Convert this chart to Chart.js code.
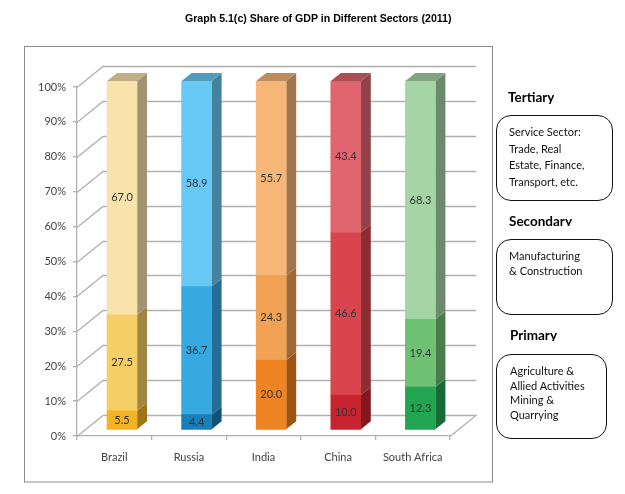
<!DOCTYPE html>
<html><head><meta charset="utf-8">
<script src="https://cdn.jsdelivr.net/npm/chart.js@4"></script>
<style>
html,body{margin:0;padding:0;background:#fff}
#wrap{position:relative;width:625px;height:494px;overflow:hidden}
canvas{position:absolute;left:0;top:0}
.t{position:absolute;white-space:nowrap;color:#000}
#title{left:185px;top:12px;font:bold 10.6px "Liberation Sans",Arial,sans-serif;line-height:13px}
.h{font:bold 13.5px Lato,sans-serif;line-height:18px;overflow:hidden}
.box{position:absolute;border:1.2px solid #111;background:#fff;box-sizing:border-box;font:11px Lato,sans-serif;color:#111}
.box span{position:absolute;white-space:nowrap}
</style></head>
<body><div id="wrap">
<canvas id="c" width="625" height="494"></canvas>
<div class="t" id="title">Graph 5.1(c) Share of GDP in Different Sectors (2011)</div>
<div class="t h" style="left:508px;top:88px;height:18px">Tertiary</div>
<div class="box" style="left:496px;top:115px;width:117px;height:86px;border-radius:15px"><span style="left:12px;top:8px;line-height:16.6px">Service Sector:<br>Trade, Real<br>Estate, Finance,<br>Transport, etc.</span></div>
<div class="t h" style="left:509px;top:212px;height:13.5px">Secondary</div>
<div class="box" style="left:496px;top:239px;width:117px;height:76px;border-radius:15px"><span style="left:12px;top:8px;line-height:15px">Manufacturing<br>&amp; Construction</span></div>
<div class="t h" style="left:510px;top:326px;height:14.5px">Primary</div>
<div class="box" style="left:496px;top:354px;width:111px;height:85px;border-radius:15px"><span style="left:13px;top:9px;line-height:14.7px">Agriculture &amp;<br>Allied Activities<br>Mining &amp;<br>Quarrying</span></div>
</div>
<script>
const categories=["Brazil","Russia","India","China","South Africa"];
const primary=[5.5,4.4,20.0,10.0,12.3];
const secondary=[27.5,36.7,24.3,46.6,19.4];
const tertiary=[67.0,58.9,55.7,43.4,68.3];
const primaryColors=["#F3B325","#1A7EB8","#EE8422","#C8242F","#22A550"];
const secondaryColors=["#F6CE66","#36A9E1","#F2A254","#D8454F","#6EC173"];
const tertiaryColors=["#F9E3AC","#69C9F5","#F5B678","#E0656F","#A5D5A5"];
const yTicks=[0,10,20,30,40,50,60,70,80,90,100];

function shade(hex,f){
  const n=parseInt(hex.slice(1),16);
  return `rgb(${Math.round((n>>16)*f)},${Math.round(((n>>8)&255)*f)},${Math.round((n&255)*f)})`;
}
const WALL_DX=26,WALL_DY=-21,BAR_DX=7.7,BAR_DY=-6,DEPTH_X=10,DEPTH_Y=-8;
const GRID="#b0b0b0";

const depth3d={
  id:"depth3d",
  beforeDatasetsDraw(chart){
    const ctx=chart.ctx,y=chart.scales.y,a=chart.chartArea;
    ctx.save();
    ctx.strokeStyle=GRID;ctx.lineWidth=1.3;
    yTicks.forEach(v=>{
      const p=Math.round(y.getPixelForValue(v))+0.5;
      ctx.beginPath();
      ctx.moveTo(a.left,p);ctx.lineTo(a.left+WALL_DX,p+WALL_DY);
      ctx.lineTo(a.right+WALL_DX,p+WALL_DY);
      if(v===0)ctx.lineTo(a.right,p);
      ctx.stroke();
    });
    ctx.restore();
    ctx.save();
    ctx.translate(BAR_DX,BAR_DY);
    chart.data.datasets.forEach((ds,di)=>{
      chart.getDatasetMeta(di).data.forEach((b,i)=>{
        const r=b.x+b.width/2,c=ds.backgroundColor[i];
        ctx.fillStyle=shade(c,0.65);
        ctx.beginPath();
        ctx.moveTo(r,b.base);ctx.lineTo(r+DEPTH_X,b.base+DEPTH_Y);
        ctx.lineTo(r+DEPTH_X,b.y+DEPTH_Y);ctx.lineTo(r,b.y);
        ctx.closePath();ctx.fill();
      });
    });
  },
  afterDatasetsDraw(chart){
    const ctx=chart.ctx,n=chart.data.datasets.length;
    chart.getDatasetMeta(n-1).data.forEach((b,i)=>{
      const l=b.x-b.width/2,r=b.x+b.width/2;
      ctx.fillStyle=shade(chart.data.datasets[n-1].backgroundColor[i],0.77);
      ctx.beginPath();
      ctx.moveTo(l,b.y);ctx.lineTo(r,b.y);
      ctx.lineTo(r+DEPTH_X,b.y+DEPTH_Y);ctx.lineTo(l+DEPTH_X,b.y+DEPTH_Y);
      ctx.closePath();ctx.fill();
    });
    ctx.fillStyle="#333";ctx.font="11px Lato, sans-serif";
    ctx.textAlign="center";ctx.textBaseline="middle";
    chart.data.datasets.forEach((ds,di)=>{
      chart.getDatasetMeta(di).data.forEach((b,i)=>{
        ctx.fillText(ds.data[i].toFixed(1),b.x,(b.y+b.base)/2);
      });
    });
    ctx.restore();
  },
  beforeDraw(chart){
    const ctx=chart.ctx;
    ctx.save();
    ctx.strokeStyle="#8c8c8c";ctx.lineWidth=1;
    ctx.strokeRect(24.5,46.5,468,435.5);
    ctx.restore();
  }
};

new Chart(document.getElementById("c"),{
  type:"bar",
  data:{labels:categories,datasets:[
    {label:"Primary",data:primary,backgroundColor:primaryColors},
    {label:"Secondary",data:secondary,backgroundColor:secondaryColors},
    {label:"Tertiary",data:tertiary,backgroundColor:tertiaryColors}
  ]},
  options:{
    responsive:false,animation:false,
    layout:{padding:{top:87,right:175,left:0,bottom:0}},
    plugins:{legend:{display:false},tooltip:{enabled:false},title:{display:false}},
    datasets:{bar:{categoryPercentage:1,barThickness:30,borderWidth:0}},
    scales:{
      x:{stacked:true,
        afterFit(s){s.height=58;},
        grid:{drawOnChartArea:false,tickLength:4,color:GRID,lineWidth:1.3},
        border:{color:GRID,width:1.3},
        ticks:{color:"#444",font:{family:"Lato",size:11},padding:11,maxRotation:0}},
      y:{stacked:true,min:0,max:100,
        afterFit(s){s.width=77;},
        afterBuildTicks(s){s.ticks=yTicks.map(v=>({value:v}));},
        grid:{drawOnChartArea:false,tickLength:4,color:GRID,lineWidth:1.3},
        border:{color:GRID,width:1.3},
        ticks:{color:"#444",font:{family:"Lato",size:11},padding:7,callback:v=>v+"%"}}
    }
  },
  plugins:[depth3d]
});
</script></body></html>
